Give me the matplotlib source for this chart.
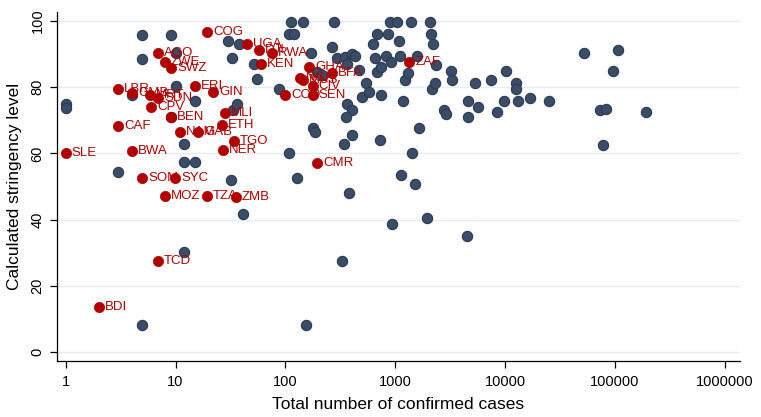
import matplotlib
matplotlib.use("Agg")
import matplotlib.pyplot as plt
from matplotlib.ticker import FixedLocator, NullLocator

plt.rcParams['font.family'] = ['Liberation Sans', 'DejaVu Sans']

# Non-highlighted countries (cases, stringency)
other_cases = [1, 1, 3, 4.0, 5.0, 5.0, 5.0, 9.1, 9.1, 10.1, 10.1, 11.9, 11.9, 11.9,
               15.0, 15.0, 29.9, 32.5, 31.8, 33.2, 36.1, 37.6, 40.9, 51.5, 54.8, 86.9,
               109, 112, 107, 119, 129, 144, 153, 173, 177, 188, 193, 214, 264,
               275, 293, 346, 401, 427, 325, 339, 361, 361, 401, 353, 376, 401,
               473, 494, 537, 572, 622, 649, 676, 869, 690, 750, 720, 750, 817,
               906, 1049, 925, 944, 1072, 1117, 1141, 1189, 1241, 1321, 1406, 1436,
               1530, 1595, 1663, 1966, 2094, 2138, 2230, 2183, 2323, 2371, 2803,
               2924, 3249, 3319, 4541, 4637, 4637, 5366, 5717, 7499, 8506, 9857,
               10290, 12680, 12680, 13220, 16990, 25290, 52600, 73500, 83400,
               78300, 96500, 107200, 192800]
other_stringency = [74.8, 73.6, 54.4, 77.5, 95.8, 88.3, 8.4, 95.8, 70.9, 90.4, 80.2,
                    62.8, 57.4, 30.3, 75.7, 57.4, 94, 88.6, 52, 73, 74.8, 93.1,
                    41.7, 86.8, 82.3, 79.3, 60, 99.6, 96.1, 96.1, 52.6, 99.6, 8.4,
                    90.4, 67.6, 66.4, 84.4, 83.5, 92.2, 99.6, 88.6, 88.9, 90.1,
                    89.2, 27.6, 62.8, 86.8, 74.8, 73, 70.9, 48, 65.5, 85, 76.9,
                    81.1, 78.4, 93.1, 88.6, 96.1, 96.1, 84.4, 85.9, 64, 77.5, 89.5,
                    99.6, 99.6, 87.4, 38.7, 94, 89.5, 53.5, 75.7, 82, 84.1, 99.6,
                    60, 50.8, 89.5, 67.6, 40.5, 99.6, 96.1, 93.1, 79.3, 81.1, 86.5,
                    73, 71.8, 84.7, 82, 35.1, 75.7, 70.9, 81.1, 73.9, 82, 72.4,
                    75.7, 84.7, 81.1, 79.3, 75.7, 76.6, 75.7, 90.4, 73, 73.3, 62.5,
                    84.7, 91.3, 72.4]

# African countries (labelled)
africa_codes = ["COG", "AGO", "ZWE", "SWZ", "LBR", "GMB", "MRT", "SDN", "CPV", "CAF",
                "BEN", "ERI", "GIN", "MLI", "ETH", "NAM", "GAB", "TGO", "NER", "SLE",
                "BWA", "SOM", "SYC", "MOZ", "TZA", "ZMB", "TCD", "BDI", "CMR", "UGA",
                "DJI", "RWA", "KEN", "GHA", "BFA", "NGA", "MUS", "CIV", "COD", "SEN",
                "ZAF"]
africa_cases = [19.3, 6.9, 8.0, 9.1, 3.0, 4.0, 5.8, 7.0, 6.0, 3.0,
                9.1, 15.0, 21.8, 28.1, 26.4, 10.9, 16.0, 33.9, 26.9, 1,
                4.0, 5.0, 9.9, 8.0, 19.3, 35.3, 6.9, 2.0, 193, 44.5,
                57.2, 75, 59.6, 163, 264, 135, 144, 177, 98.6, 177,
                1349]
africa_stringency = [96.7, 90.4, 87.4, 85.6, 79.3, 78.1, 77.5, 76.6, 73.9, 68.2,
                     70.9, 80.2, 78.4, 72.1, 68.5, 66.4, 66.4, 63.7, 61, 60,
                     60.7, 52.6, 52.6, 47.1, 47.1, 46.8, 27.6, 13.8, 57, 93.1,
                     91.3, 90.4, 86.8, 85.9, 84.1, 82.6, 82, 80.2, 77.5, 77.5,
                     87.4]

x_ticks = [1, 10, 100, 1000, 10000, 100000, 1000000]
x_tick_labels = ["1", "10", "100", "1000", "10000", "100000", "1000000"]
y_ticks = [0, 20, 40, 60, 80, 100]

blue = "#3B4C66"
blue_edge = "#2B3A52"
red = "#B00000"

fig = plt.figure(figsize=(7.61, 4.17), dpi=100)
ax = fig.add_axes([0.0749, 0.1343, 0.8975, 0.8376])

ax.set_xscale("log")
ax.set_xlim(0.834, 1.377e6)
ax.set_ylim(-2.6, 102.7)

ax.scatter(other_cases, other_stringency, s=55, color=blue, edgecolor=blue_edge,
           linewidth=0.8, zorder=3)
ax.scatter(africa_cases, africa_stringency, s=55, color=red, edgecolor=red,
           linewidth=0.5, zorder=5)
for code, cx, cy in zip(africa_codes, africa_cases, africa_stringency):
    ax.annotate(code, (cx, cy), xytext=(4.5, 0), textcoords="offset points",
                ha="left", va="center", fontsize=9.5, color=red, zorder=4)

ax.xaxis.set_major_locator(FixedLocator(x_ticks))
ax.xaxis.set_minor_locator(NullLocator())
ax.set_xticklabels(x_tick_labels)
ax.set_yticks(y_ticks)
ax.set_yticklabels([str(v) for v in y_ticks], rotation=90, va="center")

ax.tick_params(axis="both", direction="out", length=5, width=0.9, labelsize=10.5,
               color="#000000", labelcolor="#000000")
ax.tick_params(axis="x", pad=5)
ax.tick_params(axis="y", pad=4)

ax.grid(axis="y", color="#E4EEF1", linewidth=1.0, zorder=0)
ax.set_axisbelow(True)

for side in ["top", "right"]:
    ax.spines[side].set_visible(False)
for side in ["left", "bottom"]:
    ax.spines[side].set_linewidth(0.9)
    ax.spines[side].set_color("#000000")

ax.set_xlabel("Total number of confirmed cases", fontsize=12.5, labelpad=6)
ax.set_ylabel("Calculated stringency level", fontsize=12.5, labelpad=6)

fig.savefig("out.png", dpi=100)
